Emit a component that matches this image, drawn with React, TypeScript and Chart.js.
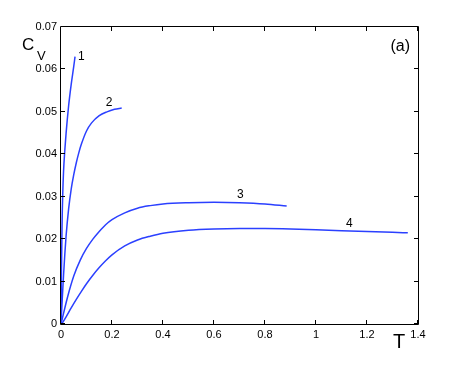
import React, { useEffect, useRef } from "react";
import { Chart, registerables } from "chart.js";
Chart.register(...registerables);

// Curve 1
const T1 = [0, 0.001, 0.002, 0.004, 0.007, 0.01, 0.015, 0.02, 0.03, 0.04, 0.05, 0.055];
const CV1 = [0, 0.007, 0.013, 0.023, 0.031, 0.036, 0.041, 0.045, 0.0515, 0.0565, 0.0607, 0.063];
// Curve 2
const T2 = [0, 0.005, 0.01, 0.015, 0.02, 0.03, 0.04, 0.05, 0.06, 0.07, 0.08, 0.1, 0.12, 0.15, 0.18, 0.21, 0.238];
const CV2 = [0, 0.006, 0.0115, 0.0165, 0.0208, 0.0272, 0.0318, 0.0352, 0.038, 0.0404, 0.0424, 0.0455, 0.0474, 0.0491, 0.05, 0.0506, 0.0509];
// Curve 3
const T3 = [0, 0.01, 0.025, 0.05, 0.075, 0.1, 0.125, 0.15, 0.175, 0.2, 0.25, 0.3, 0.35, 0.4, 0.5, 0.6, 0.7, 0.8, 0.885];
const CV3 = [0, 0.0025, 0.0062, 0.0113, 0.015, 0.0178, 0.02, 0.0218, 0.0234, 0.0246, 0.0262, 0.0273, 0.0279, 0.0283, 0.0286, 0.0287, 0.0286, 0.0283, 0.0278];
// Curve 4
const T4 = [0.003, 0.02, 0.04, 0.06, 0.08, 0.1, 0.125, 0.15, 0.175, 0.2, 0.25, 0.3, 0.35, 0.4, 0.5, 0.6, 0.7, 0.8, 0.9, 1.0, 1.1, 1.2, 1.3, 1.36];
const CV4 = [0, 0.0017, 0.0038, 0.0058, 0.0077, 0.0095, 0.0115, 0.0133, 0.0149, 0.0163, 0.0184, 0.0198, 0.0207, 0.0214, 0.0221, 0.0224, 0.0225, 0.0225, 0.0224, 0.0222, 0.022, 0.0218, 0.0216, 0.0215];

const CURVE_LABELS = ["1", "2", "3", "4"];

const X_TICKS = [0, 0.2, 0.4, 0.6, 0.8, 1, 1.2, 1.4];
const X_TICK_LABELS = ["0", "0.2", "0.4", "0.6", "0.8", "1", "1.2", "1.4"];
const Y_TICKS = [0, 0.01, 0.02, 0.03, 0.04, 0.05, 0.06, 0.07];
const Y_TICK_LABELS = ["0", "0.01", "0.02", "0.03", "0.04", "0.05", "0.06", "0.07"];

const X_LABEL = "T";
const Y_LABEL_MAIN = "C";
const Y_LABEL_SUB = "V";
const PANEL_LABEL = "(a)";

const BLUE = "#2b40ff";
const FONT = "'Liberation Sans', Arial, Helvetica, sans-serif";

const toPts = (xs: number[], ys: number[]) => xs.map((x, i) => ({ x, y: ys[i] }));

export default function App() {
  const ref = useRef<HTMLCanvasElement | null>(null);
  useEffect(() => {
    const canvas = ref.current;
    if (!canvas) return;
    const labelAnchors = [
      [0.0667, 0.0623],
      [0.175, 0.0514],
      [0.69, 0.0297],
      [1.118, 0.0229],
    ];
    const frame = {
      id: "frame",
      afterDraw(chart: any) {
        const ctx = chart.ctx;
        const { left, right, top, bottom } = chart.chartArea;
        const xs = chart.scales.x;
        const ys = chart.scales.y;
        ctx.save();
        ctx.strokeStyle = "#000";
        ctx.lineWidth = 1;
        ctx.beginPath();
        ctx.rect(Math.round(left) - 0.5, Math.round(top) - 0.5, Math.round(right - left) + 1, Math.round(bottom - top) + 1);
        ctx.stroke();
        const tl = 4;
        ctx.beginPath();
        X_TICKS.forEach((v) => {
          const px = Math.round(xs.getPixelForValue(v)) - 0.5;
          ctx.moveTo(px, bottom);
          ctx.lineTo(px, bottom - tl);
          ctx.moveTo(px, top);
          ctx.lineTo(px, top + tl);
        });
        Y_TICKS.forEach((v) => {
          const py = Math.round(ys.getPixelForValue(v)) - 0.5;
          ctx.moveTo(left, py);
          ctx.lineTo(left + tl, py);
          ctx.moveTo(right, py);
          ctx.lineTo(right - tl, py);
        });
        ctx.stroke();

        ctx.fillStyle = "#000";
        ctx.textBaseline = "alphabetic";
        ctx.textAlign = "left";
        ctx.font = `12px ${FONT}`;
        CURVE_LABELS.forEach((t, i) => {
          const [lx, ly] = labelAnchors[i];
          ctx.fillText(t, xs.getPixelForValue(lx), ys.getPixelForValue(ly));
        });
        ctx.font = `17px ${FONT}`;
        ctx.fillText(Y_LABEL_MAIN, 22, 50);
        ctx.font = `13px ${FONT}`;
        ctx.fillText(Y_LABEL_SUB, 37, 60);
        ctx.font = `20px ${FONT}`;
        ctx.fillText(X_LABEL, 393, 348);
        ctx.font = `16px ${FONT}`;
        ctx.textAlign = "right";
        ctx.fillText(PANEL_LABEL, 410, 51);
        ctx.restore();
      },
    };
    const mk = (xs: number[], ys: number[]) => ({
      data: toPts(xs, ys),
      showLine: true,
      borderColor: BLUE,
      borderWidth: 1.5,
      pointRadius: 0,
      fill: false,
      cubicInterpolationMode: "monotone" as const,
    });
    const chart = new Chart(canvas, {
      type: "scatter",
      data: {
        datasets: [mk(T1, CV1), mk(T2, CV2), mk(T3, CV3), mk(T4, CV4)],
      },
      options: {
        animation: false,
        responsive: false,
        layout: { padding: { left: 0, right: 45, top: 27, bottom: 0 } },
        plugins: { legend: { display: false }, tooltip: { enabled: false } },
        scales: {
          x: {
            type: "linear",
            min: 0,
            max: 1.4,
            grid: { display: false, drawTicks: false },
            border: { display: false },
            afterBuildTicks: (s: any) => {
              s.ticks = X_TICKS.map((v) => ({ value: v }));
            },
            afterFit: (s: any) => {
              s.height = 41;
            },
            ticks: {
              padding: 4,
              color: "#000",
              maxRotation: 0,
              autoSkip: false,
              font: { family: FONT, size: 11 },
              callback: (_v: any, i: number) => X_TICK_LABELS[i],
            },
          },
          y: {
            type: "linear",
            min: 0,
            max: 0.07,
            grid: { display: false, drawTicks: false },
            border: { display: false },
            afterBuildTicks: (s: any) => {
              s.ticks = Y_TICKS.map((v) => ({ value: v }));
            },
            afterFit: (s: any) => {
              s.width = 61;
            },
            ticks: {
              padding: 4,
              color: "#000",
              autoSkip: false,
              font: { family: FONT, size: 11 },
              callback: (_v: any, i: number) => Y_TICK_LABELS[i],
            },
          },
        },
      },
      plugins: [frame],
    });
    return () => chart.destroy();
  }, []);
  return (
    <div style={{ position: "absolute", left: 0, top: 0, width: 463, height: 365, background: "#fff" }}>
      <canvas ref={ref} width={463} height={365} style={{ width: 463, height: 365 }} />
    </div>
  );
}
